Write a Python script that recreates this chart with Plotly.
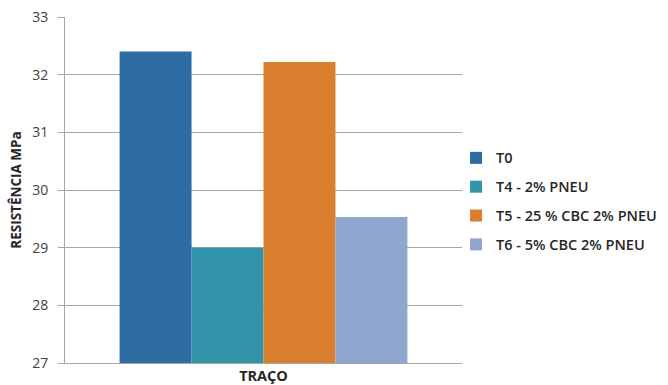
import plotly.graph_objects as go

category = ["TRAÇO"]
series_names = ["T0", "T4 - 2% PNEU", "T5 - 25 % CBC 2% PNEU", "T6 - 5% CBC 2% PNEU"]
series_values = [32.4, 29.0, 32.22, 29.53]
colors = ["#2E6CA4", "#3194A9", "#DA7F2D", "#8FA7CE"]
y_ticks = [27, 28, 29, 30, 31, 32, 33]

fig = go.Figure()
for name, val, col in zip(series_names, series_values, colors):
    fig.add_trace(go.Bar(
        x=category, y=[val], name=name, marker_color=col,
        marker_line_width=0, legendgroup=name,
    ))

fig.update_layout(
    width=668, height=385,
    margin=dict(l=65, r=206, t=17, b=22, autoexpand=False),
    paper_bgcolor="white", plot_bgcolor="white",
    barmode="group", bargap=0.275, bargroupgap=0,
    font=dict(family="Open Sans", color="#404040", size=12),
    showlegend=True,
    legend=dict(
        x=0.985, xanchor="left", y=0.467, yanchor="middle",
        font=dict(size=14.5, color="#262626", weight=600),
        tracegroupgap=7, itemwidth=30,
        bgcolor="rgba(0,0,0,0)",
    ),
    xaxis=dict(
        automargin=False,
        showline=True, linecolor="#A6A6A6", linewidth=1,
        tickfont=dict(size=14.5, weight="bold", color="#262626"),
        ticks="", ticklabelstandoff=0,
    ),
    yaxis=dict(
        automargin=False,
        range=[27, 33], tickvals=y_ticks, ticktext=[str(t) for t in y_ticks],
        showgrid=True, gridcolor="#A6A6A6", gridwidth=1,
        showline=True, linecolor="#A6A6A6", linewidth=1,
        ticks="outside", ticklen=6, tickcolor="#A6A6A6",
        ticklabelstandoff=7,
        tickfont=dict(size=14, color="#404040"),
        title=dict(text="RESISTÊNCIA MPa", font=dict(size=13.5, weight="bold", color="#262626"), standoff=7),
        zeroline=False,
    ),
)

fig.write_html("out.html")
